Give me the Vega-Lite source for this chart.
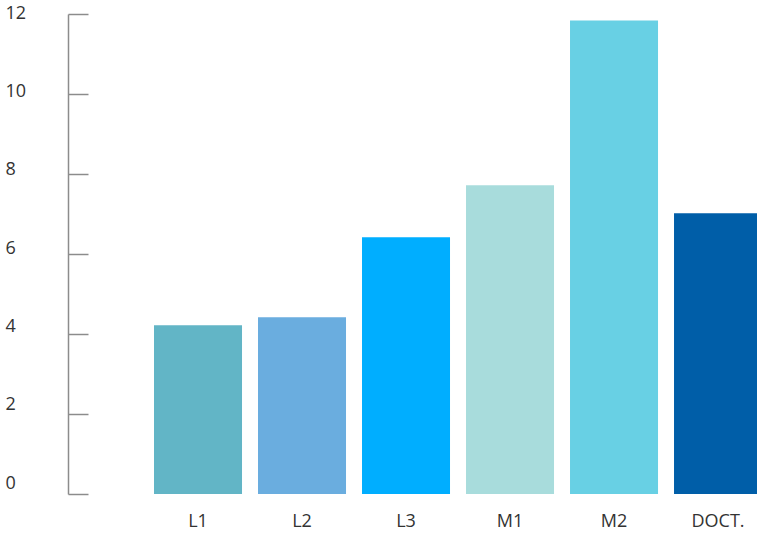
{
  "$schema": "https://vega.github.io/schema/vega-lite/v6.json",
  "width": 689,
  "height": 480,
  "autosize": {"type": "none"},
  "padding": {"left": 68, "top": 14, "right": 0, "bottom": 42},
  "background": "white",
  "config": {"view": {"stroke": null}, "font": "Open Sans"},
  "data": {"values": [
    {"level": "L1", "value": 4.22},
    {"level": "L2", "value": 4.42},
    {"level": "L3", "value": 6.42},
    {"level": "M1", "value": 7.72},
    {"level": "M2", "value": 11.84},
    {"level": "DOCT.", "value": 7.02}
  ]},
  "mark": {"type": "bar"},
  "encoding": {
    "x": {
      "field": "level", "type": "nominal", "sort": null,
      "scale": {"range": [0, 701], "paddingInner": 0.1538, "paddingOuter": 0.447, "align": 0.925},
      "axis": {"title": null, "domain": false, "ticks": false, "labelAngle": 0, "labelFontSize": 18, "labelColor": "#333333", "labelPadding": 18, "labelFont": "Open Sans"}
    },
    "y": {
      "field": "value", "type": "quantitative",
      "scale": {"domain": [0, 12], "nice": false},
      "axis": {"title": null, "values": [0, 2, 4, 6, 8, 10, 12], "grid": false, "domainColor": "#8c8c8c", "domainWidth": 1.5, "tickColor": "#8c8c8c", "tickWidth": 1.5, "tickSize": -20, "labelAlign": "left", "labelPadding": 83, "labelOffset": {"expr": "-1 - (12 - datum.value) * 10 / 12"}, "labelFontSize": 18, "labelColor": "#333333", "labelFont": "Open Sans"}
    },
    "color": {
      "field": "level", "type": "nominal", "sort": null, "legend": null,
      "scale": {"domain": ["L1", "L2", "L3", "M1", "M2", "DOCT."], "range": ["#62b5c6", "#6aaddf", "#00aeff", "#a8dcdc", "#68d0e4", "#005ea8"]}
    }
  }
}
